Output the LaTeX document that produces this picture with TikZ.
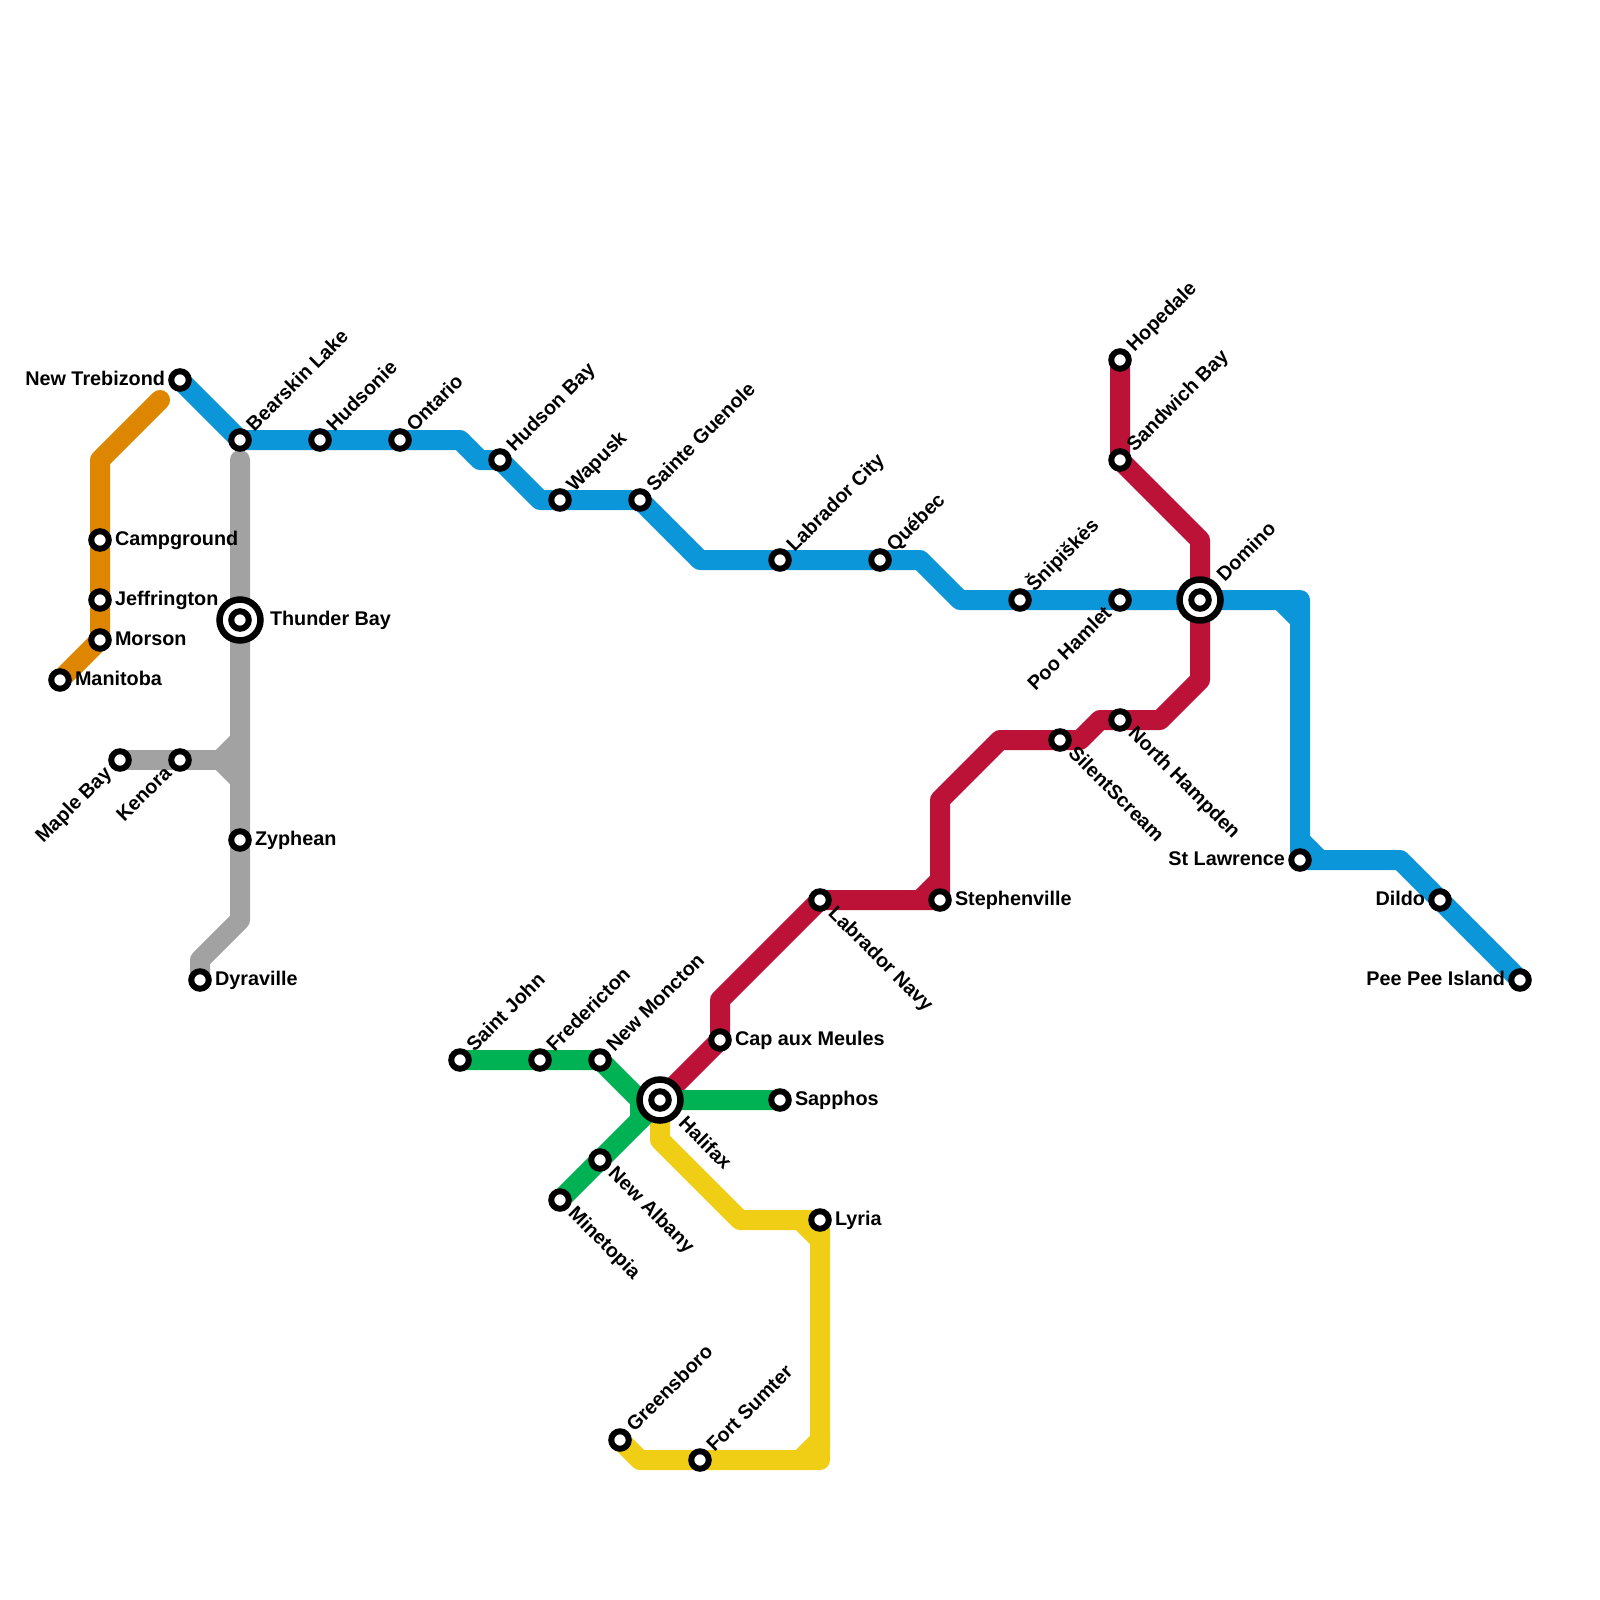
\documentclass[tikz,border=0pt]{standalone}
\usepackage{fontspec}
\setmainfont{Liberation Sans}
\usetikzlibrary{calc}
\pgfdeclarelayer{lines}
\pgfsetlayers{lines,main}
\definecolor{cblue}{HTML}{0A96D8}
\definecolor{cred}{HTML}{BC1238}
\definecolor{cgreen}{HTML}{00B254}
\definecolor{cyellow}{HTML}{F0CE15}
\definecolor{corange}{HTML}{DF8600}
\definecolor{cgray}{HTML}{A2A2A2}
\tikzset{
  x=1pt,y=-1pt,
  stn/.style={circle,draw=black,fill=white,line width=6pt,minimum size=17.5pt,inner sep=0pt,outer sep=0pt},
  hub/.style={circle,draw=black,fill=white,line width=6.5pt,minimum size=41pt,inner sep=0pt,outer sep=0pt},
  lbl/.style={inner sep=0pt,outer sep=0pt,font=\fontsize{19.8}{21}\selectfont\bfseries,text=black},
  lbR/.style={lbl,anchor=base west,xshift=15pt,yshift=-5.5pt},
  lbRf/.style={lbl,anchor=base west,xshift=30pt,yshift=-5.5pt},
  lbL/.style={lbl,anchor=base east,xshift=-15pt,yshift=-5.5pt},
  lbUR/.style={lbl,rotate=45,anchor=base west,xshift=15.5pt,yshift=-5pt},
  lbURf/.style={lbl,rotate=45,anchor=base west,xshift=30pt,yshift=-5pt},
  lbDR/.style={lbl,rotate=-45,anchor=base west,xshift=15.5pt,yshift=-5pt},
  lbDRf/.style={lbl,rotate=-45,anchor=base west,xshift=30pt,yshift=-5pt},
  lbDL/.style={lbl,rotate=45,anchor=base east,xshift=-15.5pt,yshift=-5pt},
  metro/.style={line width=20pt,line cap=round,line join=round},
}
\begin{document}
\begin{tikzpicture}
\useasboundingbox (0,0) rectangle (1600,1600);
% orange
\node[stn] (campground) at (100,540) {};
\node[stn] (jeffrington) at (100,600) {};
\node[stn] (morson) at (100,640) {};
\node[stn] (manitoba) at (60,680) {};
% gray
\node[hub] (thunderO) at (240,620) {};
\node[stn] (thunder) at (240,620) {};
\node[stn] (maple) at (120,760) {};
\node[stn] (kenora) at (180,760) {};
\node[stn] (zyphean) at (240,840) {};
\node[stn] (dyraville) at (200,980) {};
% blue
\node[stn] (trebizond) at (180,380) {};
\node[stn] (bearskin) at (240,440) {};
\node[stn] (hudsonie) at (320,440) {};
\node[stn] (ontario) at (400,440) {};
\node[stn] (hudsonbay) at (500,460) {};
\node[stn] (wapusk) at (560,500) {};
\node[stn] (guenole) at (640,500) {};
\node[stn] (labcity) at (780,560) {};
\node[stn] (quebec) at (880,560) {};
\node[stn] (snipiskes) at (1020,600) {};
\node[stn] (poo) at (1120,600) {};
\node[hub] (dominoO) at (1200,600) {};
\node[stn] (domino) at (1200,600) {};
\node[stn] (lawrence) at (1300,860) {};
\node[stn] (dildo) at (1440,900) {};
\node[stn] (peepee) at (1520,980) {};
% red
\node[stn] (hopedale) at (1120,360) {};
\node[stn] (sandwich) at (1120,460) {};
\node[stn] (hampden) at (1120,720) {};
\node[stn] (silent) at (1060,740) {};
\node[stn] (stephen) at (940,900) {};
\node[stn] (labnavy) at (820,900) {};
\node[stn] (meules) at (720,1040) {};
% green
\node[stn] (saintjohn) at (460,1060) {};
\node[stn] (fredericton) at (540,1060) {};
\node[stn] (moncton) at (600,1060) {};
\node[hub] (halifaxO) at (660,1100) {};
\node[stn] (halifax) at (660,1100) {};
\node[stn] (sapphos) at (780,1100) {};
\node[stn] (albany) at (600,1160) {};
\node[stn] (minetopia) at (560,1200) {};
% yellow
\node[stn] (lyria) at (820,1220) {};
\node[stn] (sumter) at (700,1460) {};
\node[stn] (greensboro) at (620,1440) {};
% labels
\node[lbR] (l1) at (campground) {Campground};
\node[lbR] (l2) at (jeffrington) {Jeffrington};
\node[lbR] (l3) at (morson) {Morson};
\node[lbR] (l4) at (manitoba) {Manitoba};
\node[lbRf] (l5) at (thunder) {Thunder Bay};
\node[lbDL] (l6) at (maple) {Maple Bay};
\node[lbDL] (l7) at (kenora) {Kenora};
\node[lbR] (l8) at (zyphean) {Zyphean};
\node[lbR] (l9) at (dyraville) {Dyraville};
\node[lbL] (l10) at (trebizond) {New Trebizond};
\node[lbUR] (l11) at (bearskin) {Bearskin Lake};
\node[lbUR] (l12) at (hudsonie) {Hudsonie};
\node[lbUR] (l13) at (ontario) {Ontario};
\node[lbUR] (l14) at (hudsonbay) {Hudson Bay};
\node[lbUR] (l15) at (wapusk) {Wapusk};
\node[lbUR] (l16) at (guenole) {Sainte Guenole};
\node[lbUR] (l17) at (labcity) {Labrador City};
\node[lbUR] (l18) at (quebec) {Québec};
\node[lbUR] (l19) at (snipiskes) {Šnipiškės};
\node[lbDL] (l20) at (poo) {Poo Hamlet};
\node[lbURf] (l21) at (domino) {Domino};
\node[lbL] (l22) at (lawrence) {St Lawrence};
\node[lbL] (l23) at (dildo) {Dildo};
\node[lbL] (l24) at (peepee) {Pee Pee Island};
\node[lbUR] (l25) at (hopedale) {Hopedale};
\node[lbUR] (l26) at (sandwich) {Sandwich Bay};
\node[lbDR] (l27) at (hampden) {North Hampden};
\node[lbDR] (l28) at (silent) {SilentScream};
\node[lbR] (l29) at (stephen) {Stephenville};
\node[lbDR] (l30) at (labnavy) {Labrador Navy};
\node[lbR] (l31) at (meules) {Cap aux Meules};
\node[lbUR] (l32) at (saintjohn) {Saint John};
\node[lbUR] (l33) at (fredericton) {Fredericton};
\node[lbUR] (l34) at (moncton) {New Moncton};
\node[lbDRf] (l35) at (halifax) {Halifax};
\node[lbR] (l36) at (sapphos) {Sapphos};
\node[lbDR] (l37) at (albany) {New Albany};
\node[lbDR] (l38) at (minetopia) {Minetopia};
\node[lbR] (l39) at (lyria) {Lyria};
\node[lbUR] (l40) at (sumter) {Fort Sumter};
\node[lbUR] (l41) at (greensboro) {Greensboro};
\begin{pgfonlayer}{lines}
% blue line
\draw[metro,cblue] (trebizond.center) -- (bearskin.center) -- (hudsonie.center) -- (ontario.center) -- (460,440) -- (480,460) -- (hudsonbay.center) -- (540,500) -- (wapusk.center) -- (guenole.center) -- (700,560) -- (labcity.center) -- (quebec.center) -- (920,560) -- (960,600) -- (snipiskes.center) -- (poo.center) -- (domino.center) -- (1300,600) -- (lawrence.center) -- (1400,860) -- (dildo.center) -- (peepee.center);
\draw[metro,cblue] (1280,600) -- (1300,620);
\draw[metro,cblue] (1300,840) -- (1320,860);
% red line
\draw[metro,cred] (hopedale.center) -- (sandwich.center) -- (1200,540) -- (domino.center) -- (1200,680) -- (1160,720) -- (hampden.center) -- (1100,720) -- (1080,740) -- (silent.center) -- (1000,740) -- (940,800) -- (stephen.center) -- (labnavy.center) -- (720,1000) -- (meules.center) -- (halifax.center);
\draw[metro,cred] (920,900) -- (940,880);
% yellow line
\draw[metro,cyellow] (halifax.center) -- (660,1140) -- (740,1220) -- (lyria.center) -- (820,1460) -- (sumter.center) -- (640,1460) -- (greensboro.center);
\draw[metro,cyellow] (800,1220) -- (820,1240);
\draw[metro,cyellow] (800,1460) -- (820,1440);
% green line
\draw[metro,cgreen] (saintjohn.center) -- (fredericton.center) -- (moncton.center) -- (640,1100) -- (halifax.center) -- (sapphos.center);
\draw[metro,cgreen] (minetopia.center) -- (albany.center) -- (halifax.center);
\draw[metro,cgreen] (640,1100) -- (640,1120);
% orange line
\draw[metro,corange] (160,400) -- (100,460) -- (campground.center) -- (jeffrington.center) -- (morson.center) -- (manitoba.center);
% gray line
\draw[metro,cgray] (240,460) -- (thunder.center) -- (zyphean.center) -- (240,920) -- (200,960) -- (dyraville.center);
\draw[metro,cgray] (maple.center) -- (kenora.center) -- (220,760);
\draw[metro,cgray] (240,740) -- (220,760) -- (240,780);
\end{pgfonlayer}
\end{tikzpicture}
\end{document}
